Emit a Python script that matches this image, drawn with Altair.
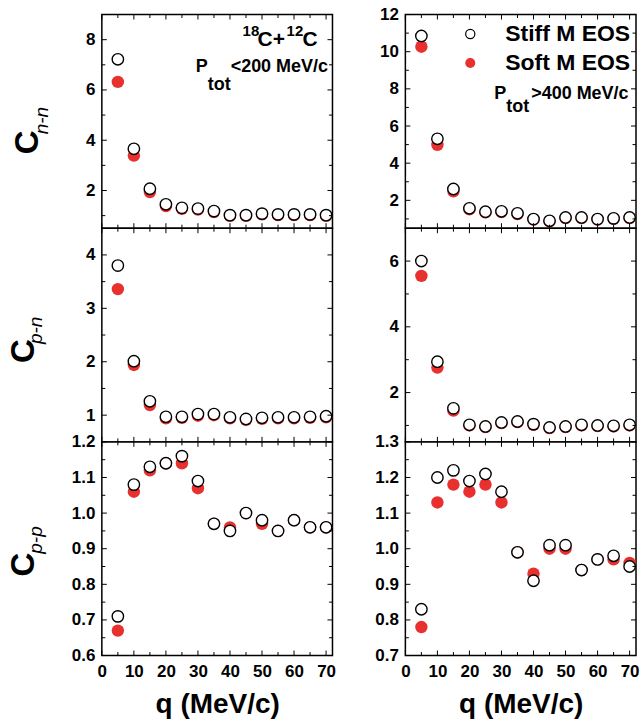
import altair as alt
import pandas as pd

# momentum difference q (MeV/c)
q_values = [5, 10, 15, 20, 25, 30, 35, 40, 45, 50, 55, 60, 65, 70]

# n-n correlation, P_tot < 200 MeV/c
nn_low_stiff = [7.22, 3.66, 2.07, 1.45, 1.31, 1.28, 1.18, 1.02, 1.02, 1.08, 1.05, 1.05, 1.05, 1.02]
nn_low_soft = [6.32, 3.39, 1.94, 1.38, 1.27, 1.24, 1.14, 0.99, 0.99, 1.05, 1.02, 1.02, 1.02, 0.99]
# n-n correlation, P_tot > 400 MeV/c
nn_high_stiff = [10.85, 5.31, 2.61, 1.57, 1.39, 1.41, 1.30, 0.99, 0.90, 1.08, 1.08, 0.99, 1.03, 1.08]
nn_high_soft = [10.27, 4.99, 2.49, 1.52, 1.35, 1.37, 1.26, 0.96, 0.87, 1.05, 1.05, 0.96, 1.00, 1.05]

# p-n correlation
pn_low_stiff = [3.80, 2.01, 1.26, 0.97, 0.97, 1.02, 1.02, 0.96, 0.93, 0.95, 0.96, 0.96, 0.97, 0.98]
pn_low_soft = [3.36, 1.94, 1.19, 0.94, 0.95, 0.99, 1.00, 0.94, 0.91, 0.93, 0.94, 0.94, 0.95, 0.96]
pn_high_stiff = [6.00, 2.94, 1.52, 1.02, 0.97, 1.09, 1.12, 1.04, 0.94, 0.97, 1.02, 1.00, 0.99, 1.02]
pn_high_soft = [5.55, 2.76, 1.45, 1.00, 0.95, 1.07, 1.10, 1.02, 0.92, 0.95, 1.00, 0.98, 0.97, 1.00]

# p-p correlation
pp_low_stiff = [0.71, 1.08, 1.13, 1.14, 1.16, 1.09, 0.97, 0.95, 1.00, 0.98, 0.95, 0.98, 0.96, 0.96]
pp_low_soft = [0.67, 1.06, 1.12, 1.14, 1.14, 1.07, 0.97, 0.96, 1.00, 0.97, 0.95, 0.98, 0.96, 0.96]
pp_high_stiff = [0.83, 1.20, 1.22, 1.19, 1.21, 1.16, 0.99, 0.91, 1.01, 1.01, 0.94, 0.97, 0.98, 0.95]
pp_high_soft = [0.78, 1.13, 1.18, 1.16, 1.18, 1.13, 0.99, 0.93, 1.00, 1.00, 0.94, 0.97, 0.97, 0.96]

# axis ticks
x_major = [0, 10, 20, 30, 40, 50, 60, 70]
x_minor = [5, 15, 25, 35, 45, 55, 65]

W, H = 231, 214
RED = "#e8302e"
FONT = "Liberation Sans"


def text(label, x, y, size, angle=0, align="left", style="normal", weight="bold", baseline="alphabetic"):
    kw = dict(font=FONT, fontSize=size, fontWeight=weight, fontStyle=style,
              align=align, baseline=baseline, color="black")
    if angle:
        kw["angle"] = angle
    return alt.Chart(pd.DataFrame({"t": [label]})).mark_text(**kw).encode(
        x=alt.value(x), y=alt.value(y), text="t:N")


def panel(stiff, soft, ydom, y_major, y_minor, yfmt, bottom, extras):
    xs = alt.Scale(domain=[0, 72], nice=False, zero=False)
    ys = alt.Scale(domain=ydom, nice=False, zero=False)
    if bottom:
        xaxis = alt.Axis(values=x_major, title="q (MeV/c)", labelFlush=False,
                         labelOverlap=False, labelPadding=8, titlePadding=11)
    else:
        xaxis = alt.Axis(values=x_major, title=None, labels=False)
    yaxis = alt.Axis(values=y_major, title=None, format=yfmt, labelOverlap=False,
                     labelPadding=7)
    xe = alt.X("q:Q", scale=xs, axis=xaxis)
    ye_soft = alt.Y("soft:Q", scale=ys, axis=yaxis)
    ye_stiff = alt.Y("stiff:Q", scale=ys, axis=yaxis)

    df = pd.DataFrame({"q": q_values, "stiff": stiff, "soft": soft})
    base = alt.Chart(df)
    soft_pts = base.mark_point(shape="circle", filled=True, size=155, color=RED,
                               opacity=1).encode(x=xe, y=ye_soft)
    stiff_pts = base.mark_point(shape="circle", filled=True, size=130, fill="white",
                                stroke="black", strokeWidth=1.4, opacity=1).encode(
        x=xe, y=ye_stiff)

    layers = [soft_pts, stiff_pts]
    tx_maj = alt.Chart(pd.DataFrame({"q": x_major}))
    tx_min = alt.Chart(pd.DataFrame({"q": x_minor}))
    ty_maj = alt.Chart(pd.DataFrame({"soft": y_major}))
    ty_min = alt.Chart(pd.DataFrame({"soft": y_minor}))
    for src, ln in ((tx_maj, 5), (tx_min, 3.5)):
        layers.append(src.mark_rule(color="black", strokeWidth=1).encode(
            x=xe, y=alt.value(H), y2=alt.value(H - ln)))
        layers.append(src.mark_rule(color="black", strokeWidth=1).encode(
            x=xe, y=alt.value(0), y2=alt.value(ln)))
    for src, ln in ((ty_maj, 5), (ty_min, 3.5)):
        layers.append(src.mark_rule(color="black", strokeWidth=1).encode(
            y=ye_soft, x=alt.value(0), x2=alt.value(ln)))
        layers.append(src.mark_rule(color="black", strokeWidth=1).encode(
            y=ye_soft, x=alt.value(W), x2=alt.value(W - ln)))
    layers.extend(extras)
    return alt.layer(*layers).properties(width=W, height=H)


def ytitle(sub, cx, cy, sx, sy):
    return [text("C", cx, cy, 33, angle=270, align="center"),
            text(sub, sx, sy, 19, angle=270, align="left", style="italic", weight="normal")]


# reaction label and momentum cut, left column
left_notes = [
    text("18", 141, 21, 15), text("C+", 156, 32, 21),
    text("12", 185, 21, 15), text("C", 201, 32, 21),
    text("P", 94, 58, 18), text("tot", 106, 76, 18), text("<200 MeV/c", 129, 58, 18),
]

# legend and momentum cut, right column
legend = [
    alt.Chart(pd.DataFrame({"t": ["Stiff M EOS"]})).mark_point(
        shape="circle", filled=True, size=85, fill="white", stroke="black",
        strokeWidth=1.2, opacity=1).encode(x=alt.value(65), y=alt.value(19.5)),
    alt.Chart(pd.DataFrame({"t": ["Soft M EOS"]})).mark_point(
        shape="circle", filled=True, size=100, color=RED, opacity=1).encode(
        x=alt.value(65), y=alt.value(48.5)),
    text("Stiff M EOS", 100, 27, 23), text("Soft M EOS", 100, 56, 23),
    text("P", 89, 85, 18), text("tot", 101, 98, 18), text(">400 MeV/c", 126, 85, 18),
]

panels = [
    panel(nn_low_stiff, nn_low_soft, [0.5, 9], [2, 4, 6, 8], [1, 3, 5, 7], "d", False,
          ytitle("n-n", -64, 128, -54, 120) + left_notes),
    panel(nn_high_stiff, nn_high_soft, [0.5, 12], [2, 4, 6, 8, 10, 12], [1, 3, 5, 7, 9, 11],
          "d", False, legend),
    panel(pn_low_stiff, pn_low_soft, [0.5, 4.5], [1, 2, 3, 4], [1.5, 2.5, 3.5], "d", False,
          ytitle("p-n", -68, 123, -60, 116)),
    panel(pn_high_stiff, pn_high_soft, [0.5, 7], [2, 4, 6], [1, 3, 5], "d", False, []),
    panel(pp_low_stiff, pp_low_soft, [0.6, 1.2], [0.6, 0.7, 0.8, 0.9, 1.0, 1.1, 1.2],
          [0.65, 0.75, 0.85, 0.95, 1.05, 1.15], ".1f", True,
          ytitle("p-p", -68, 123, -60, 112)),
    panel(pp_high_stiff, pp_high_soft, [0.7, 1.3], [0.7, 0.8, 0.9, 1.0, 1.1, 1.2, 1.3],
          [0.75, 0.85, 0.95, 1.05, 1.15, 1.25], ".1f", True, []),
]

chart = alt.concat(*panels, columns=2, spacing=alt.RowColnumber(row=0, column=73),
                   bounds="flush").properties(
    padding={"left": 7, "top": 4, "right": 2, "bottom": 2},
    background="white",
).configure_view(stroke="black", strokeWidth=1.5).configure_axis(
    domain=False, ticks=False, grid=False,
    labelFont=FONT, labelFontSize=17, labelFontWeight="bold", labelColor="black",
    titleFont=FONT, titleFontSize=28, titleFontWeight="bold", titleColor="black",
)

chart.save("out.html", embed_options={"renderer": "svg", "actions": False})
